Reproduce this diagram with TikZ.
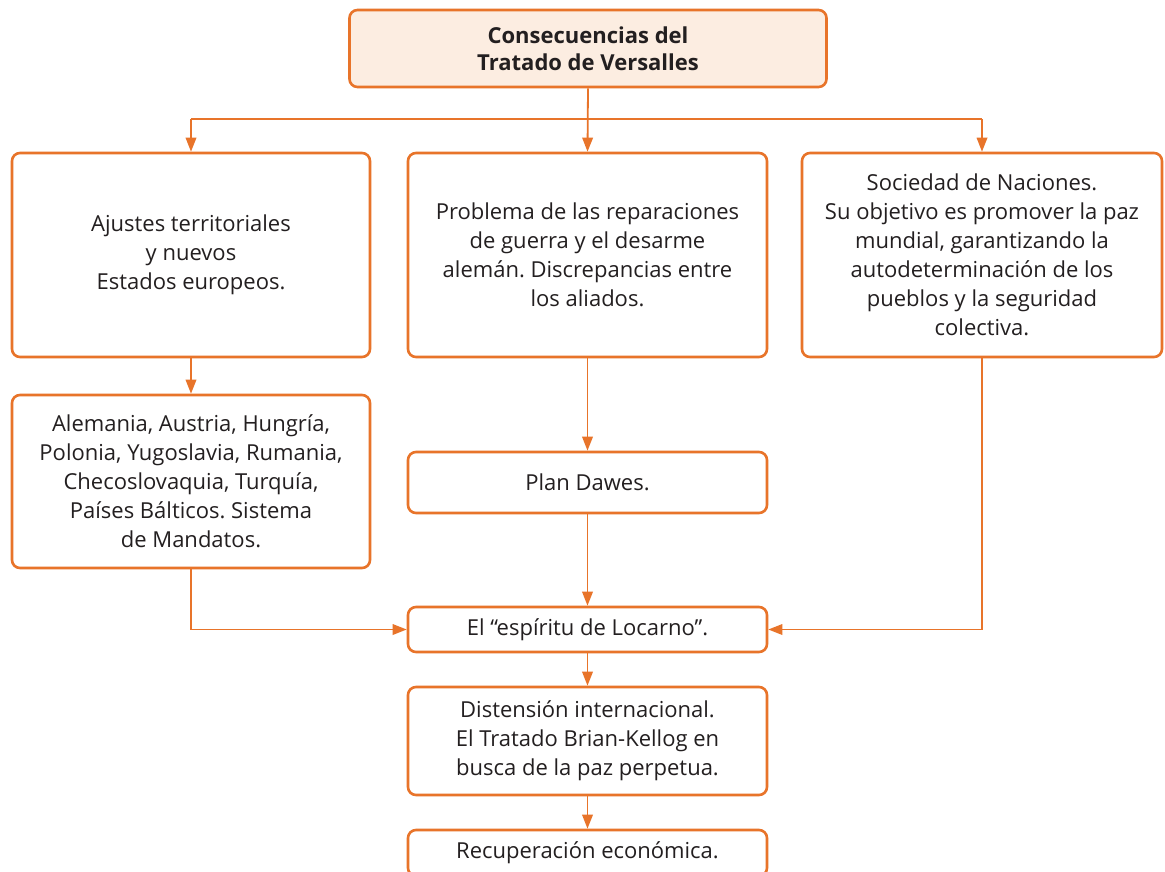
\documentclass[tikz,border=0pt]{standalone}
\usepackage{fontspec}
\setmainfont{Open Sans}
\usetikzlibrary{arrows.meta}
\definecolor{org}{HTML}{E8742A}
\definecolor{peach}{HTML}{FCEDE1}
\definecolor{txt}{HTML}{231F20}
\frenchspacing
\begin{document}
\begin{tikzpicture}[x=1pt,y=-1pt,
  box/.style={draw=org, line width=2.6pt, rounded corners=8pt, fill=white,
    text=txt, align=center, inner sep=0pt,
    font=\fontsize{22}{29}\selectfont},
  conn/.style={draw=org, line width=1.8pt},
  arr/.style={conn, -{Triangle[length=14pt,width=10.5pt]}}]
\useasboundingbox[fill=white] (0,0) rectangle (1165,871);

\node[box, fill=peach, minimum width=477pt, minimum height=77pt,
  font=\bfseries\fontsize{22}{27}\selectfont] (top) at (588,48.5)
  {Consecuencias del\\Tratado de Versalles};

\node[box, minimum width=358pt, minimum height=204pt] (A) at (191,255)
  {Ajustes territoriales\\y nuevos\\Estados europeos.};
\node[box, minimum width=359pt, minimum height=204pt] (B) at (587.5,255)
  {Problema de las reparaciones\\de guerra y el desarme\\alemán. Discrepancias entre\\los aliados.};
\node[box, minimum width=360pt, minimum height=204pt] (C) at (982,255)
  {Sociedad de Naciones.\\Su objetivo es promover la paz\\mundial, garantizando la\\autodeterminación de los\\pueblos y la seguridad\\colectiva.};

\node[box, minimum width=358pt, minimum height=173pt] (A2) at (191,481.5)
  {Alemania, Austria, Hungría,\\Polonia, Yugoslavia, Rumania,\\Checoslovaquia, Turquía,\\Países Bálticos. Sistema\\de Mandatos.};
\node[box, minimum width=359pt, minimum height=61pt] (B2) at (587.5,482.5)
  {Plan Dawes.};
\node[box, minimum width=359pt, minimum height=45pt] (L) at (587.5,629.5)
  {El “espíritu de Locarno”.};
\node[box, minimum width=359pt, minimum height=108pt] (D) at (587.5,741)
  {Distensión internacional.\\El Tratado Brian-Kellog en\\busca de la paz perpetua.};
\node[box, minimum width=359pt, minimum height=46pt] (R) at (587.5,853)
  {Recuperación económica.};

\coordinate (bus) at (0,119);
\draw[conn] (A.north |- bus) -- (C.north |- bus);
\draw[arr] (top.south) -- (B.north);
\draw[arr] (A.north |- bus) -- (A.north);
\draw[arr] (C.north |- bus) -- (C.north);
\draw[arr] (A.south) -- (A2.north);
\draw[arr] (B.south) -- (B2.north);
\draw[arr] (B2.south) -- (L.north);
\draw[arr] (A2.south) |- (L.west);
\draw[arr] (C.south) |- (L.east);
\draw[arr] (L.south) -- (D.north);
\draw[arr] (D.south) -- (R.north);
\end{tikzpicture}
\end{document}
